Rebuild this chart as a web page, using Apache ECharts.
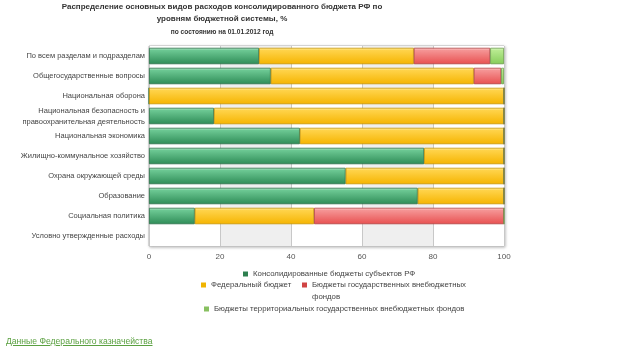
<!DOCTYPE html>
<html><head><meta charset="utf-8">
<script src="https://cdn.jsdelivr.net/npm/echarts@6/dist/echarts.min.js"></script>
<style>html,body{margin:0;padding:0;background:#fff;}#c{width:623px;height:356px;}
#lnk{position:absolute;left:6px;top:336px;font:8.6px "Liberation Sans",Arial,sans-serif;color:#5aa040;text-decoration:underline;}</style>
</head><body><div id="c"></div><a id="lnk">Данные Федерального казначейства</a>
<script>
const categories = ["По всем разделам и подразделам","Общегосударственные вопросы","Национальная оборона","Национальная безопасность и\nправоохранительная деятельность","Национальная экономика","Жилищно-коммунальное хозяйство","Охрана окружающей среды","Образование","Социальная политика","Условно утвержденные расходы"];
const seriesNames = ["Консолидированные бюджеты субъектов РФ","Федеральный бюджет","Бюджеты государственных внебюджетных фондов","Бюджеты территориальных государственных внебюджетных фондов"];
const regional = [31.0, 34.3, 0, 18.3, 42.5, 77.5, 55.4, 75.7, 12.9, null];
const federal  = [43.6, 57.2, 100, 81.7, 57.5, 22.5, 44.6, 24.3, 33.6, null];
const stateFunds = [21.5, 7.7, 0, 0, 0, 0, 0, 0, 53.5, null];
const territorialFunds = [3.9, 0.8, 0, 0, 0, 0, 0, 0, 0, null];
const xTicks = [0, 20, 40, 60, 80, 100];
const titleLines = ["Распределение основных видов расходов консолидированного бюджета РФ по", "уровням бюджетной системы, %"];
const subtitle = "по состоянию на 01.01.2012 год";

const grad = (a,b,c) => new echarts.graphic.LinearGradient(0,0,0,1,[{offset:0,color:a},{offset:0.15,color:b},{offset:1,color:c}]);
const styles = [
  {color: grad('#c8f0d8','#6cc893','#2e8c57'), borderColor:'#2a7048', legend:'#2e8050'},
  {color: grad('#fff5b0','#ffd34a','#f5b400'), borderColor:'#c89400', legend:'#f0b400'},
  {color: grad('#ffd8d8','#f59595','#e85050'), borderColor:'#b04040', legend:'#d04444'},
  {color: grad('#eaffd8','#b8ea90','#86cc5a'), borderColor:'#6a9a4a', legend:'#88c060'}
];
const datas = [regional, federal, stateFunds, territorialFunds];
const chart = echarts.init(document.getElementById('c'));
const font = '"Liberation Sans", Arial, sans-serif';
const lg = {itemWidth:5, itemHeight:5, icon:'rect', itemGap:16, padding:0, textStyle:{fontSize:7.8,color:'#444',fontFamily:font, lineHeight:12}};
const ld = i => [{name:seriesNames[i], itemStyle:{color:styles[i].legend, borderWidth:0}}];
chart.setOption({
  animation:false,
  graphic:[
    {type:'text', x:222, y:7, style:{text:titleLines[0], textAlign:'center', textVerticalAlign:'middle', font:'bold 8px '+font, fill:'#333'}},
    {type:'text', x:222, y:19, style:{text:titleLines[1], textAlign:'center', textVerticalAlign:'middle', font:'bold 8px '+font, fill:'#333'}},
    {type:'text', x:222, y:32, style:{text:subtitle, textAlign:'center', textVerticalAlign:'middle', font:'bold 6.6px '+font, fill:'#333'}}
  ],
  legend:[
    Object.assign({data:ld(0), top:268, left:243}, lg),
    Object.assign({data:ld(1), top:279, left:201}, lg),
    Object.assign({data:ld(2), top:279, left:302, itemHeight:24, icon:'path://M0,7h10v10h-10Z M0,0h0.01 M0,48h0.01',
      formatter: n => "Бюджеты государственных внебюджетных\nфондов"}, lg, {itemHeight:24, icon:'path://M0,7h10v10h-10Z M0,0h0.01 M0,48h0.01'}),
    Object.assign({data:ld(3), top:303, left:204}, lg)
  ],
  grid:{left:149, right:119, top:46, bottom:110, outerBoundsMode:'none', containLabel:false, show:true, borderColor:'#bbb', borderWidth:1, shadowColor:'rgba(0,0,0,0.25)', shadowBlur:3, shadowOffsetX:1, shadowOffsetY:1, backgroundColor:'#fff'},
  xAxis:{type:'value', min:0, max:100, interval:20,
    axisLine:{show:false}, axisTick:{show:false},
    axisLabel:{fontSize:8, color:'#555', fontFamily:font, margin:7, formatter: v => xTicks.includes(v) ? String(v) : ''},
    splitLine:{show:true, lineStyle:{color:'#c8c8c8'}},
    splitArea:{show:true, areaStyle:{color:['#ffffff','#efefef']}}},
  yAxis:{type:'category', data:categories, inverse:true,
    axisLine:{show:false}, axisTick:{show:false},
    axisLabel:{fontSize:7.5, color:'#444', fontFamily:font, margin:4, lineHeight:11}},
  series: datas.map((d,i)=>({
    name:seriesNames[i], type:'bar', stack:'s', data:d, barWidth:'82%',
    itemStyle:{color:styles[i].color, borderColor:styles[i].borderColor, borderWidth:0.8, borderRadius:0},
    emphasis:{disabled:true}
  }))
});
</script></body></html>
